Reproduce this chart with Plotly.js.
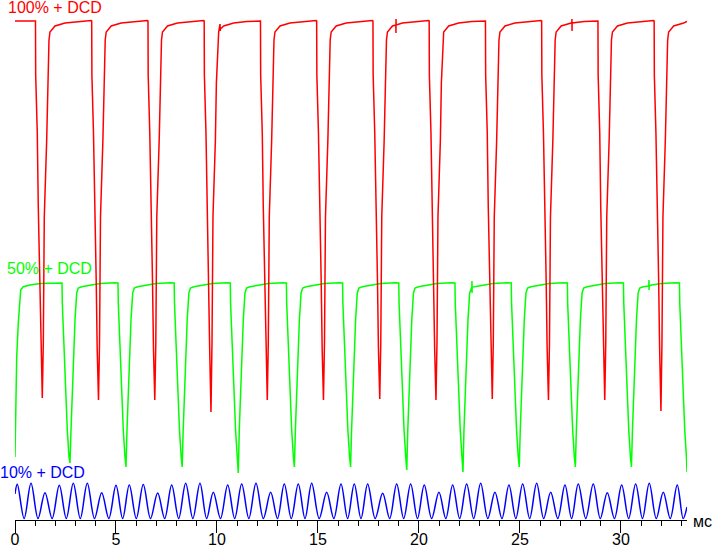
<!DOCTYPE html>
<html>
<head>
<meta charset="utf-8">
<script src="https://cdn.plot.ly/plotly-3.0.1.min.js"></script>
<style>html,body{margin:0;padding:0;background:#fff;}#chart{width:714px;height:548px;}</style>
</head>
<body>
<div id="chart"></div>
<script>
// time axis in ms, brightness in arbitrary units
const tickVals = [0, 5, 10, 15, 20, 25, 30];
const tickText = ["0", "5", "10", "15", "20", "25", "30"];
const seriesNames = ["100% + DCD", "50% + DCD", "10% + DCD"];
const unitLabel = "мс";

const redX = [0,
1.014,1.024,1.103,1.153,1.237,1.287,1.351,1.401,1.450,1.569,1.618,1.683,1.732,1.980,2.475,3.118,3.762,
3.797,3.807,3.886,3.936,4.020,4.070,4.134,4.184,4.233,4.352,4.401,4.466,4.515,4.763,5.258,5.901,6.545,
6.584,6.594,6.673,6.723,6.807,6.857,6.921,6.971,7.020,7.139,7.188,7.253,7.302,7.550,8.045,8.688,9.332,
9.366,9.376,9.455,9.505,9.589,9.639,9.703,9.753,9.802,9.921,9.970,10.035,10.084,10.150,10.160,10.170,10.332,10.827,11.470,12.114,
12.153,12.163,12.242,12.292,12.376,12.426,12.490,12.540,12.589,12.708,12.757,12.822,12.871,13.119,13.614,14.257,14.901,
14.935,14.945,15.024,15.074,15.158,15.208,15.272,15.322,15.371,15.490,15.539,15.604,15.653,15.901,16.396,17.039,17.683,
17.722,17.732,17.811,17.861,17.945,17.995,18.059,18.109,18.158,18.277,18.326,18.391,18.440,18.688,18.855,18.860,18.865,18.870,19.183,19.826,20.470,
20.505,20.515,20.594,20.644,20.728,20.778,20.842,20.892,20.941,21.060,21.109,21.174,21.223,21.471,21.966,22.609,23.253,
23.292,23.302,23.381,23.431,23.515,23.565,23.629,23.679,23.728,23.847,23.896,23.961,24.010,24.258,24.753,25.396,26.040,
26.074,26.084,26.163,26.213,26.297,26.347,26.411,26.461,26.510,26.629,26.678,26.743,26.792,27.040,27.535,27.570,27.574,27.578,27.582,28.178,28.822,
28.861,28.871,28.950,29.000,29.084,29.134,29.198,29.248,29.297,29.416,29.465,29.530,29.579,29.827,30.322,30.965,31.609,
31.643,31.653,31.732,31.782,31.866,31.916,31.980,32.030,32.079,32.198,32.247,32.312,32.361,32.609,33.104,33.270];
const redY = [499,
499,445,387,313,240,170,122,177,303,380,437,480,488,494,497,498.5,499.5,
499,445,387,313,240,170,120,177,303,380,437,480,488,494,497,498.5,499.5,
499,445,387,313,240,170,120,177,303,380,437,480,488,494,497,498.5,499.5,
499,445,387,313,240,170,108,177,303,380,437,480,488,496,489,491,494,497,498.5,499.5,
499,445,387,313,240,170,120,177,303,380,437,480,488,494,497,498.5,499.5,
499,445,387,313,240,170,120,177,303,380,437,480,488,494,497,498.5,499.5,
499,445,387,313,240,170,121,177,303,380,437,480,488,494,495,487,501,495,497,498.5,499.5,
499,445,387,313,240,170,120,177,303,380,437,480,488,494,497,498.5,499.5,
499,445,387,313,240,170,121,177,303,380,437,480,488,494,497,498.5,499.5,
499,445,387,313,240,170,120,177,303,380,437,480,488,494,497,497,501,489,497,498.5,499.5,
499,445,387,313,240,170,120,177,303,380,437,480,488,494,497,498.5,499.5,
499,445,387,313,240,170,109,177,303,380,437,480,488,494,497,498.5];

const greenX = [0.000,0.035,0.084,0.163,0.213,0.282,0.411,0.743,1.238,
2.327,2.342,2.426,2.525,2.589,2.673,2.723,2.773,2.837,2.886,2.971,3.055,3.134,3.302,3.713,4.208,4.923,
5.099,5.114,5.198,5.297,5.361,5.445,5.495,5.545,5.609,5.658,5.743,5.827,5.906,6.074,6.485,6.980,7.695,
7.881,7.896,7.980,8.079,8.143,8.227,8.277,8.327,8.391,8.440,8.525,8.609,8.688,8.856,9.267,9.762,10.477,
10.658,10.673,10.757,10.856,10.920,11.004,11.054,11.104,11.168,11.217,11.302,11.386,11.465,11.633,12.044,12.539,13.254,
13.436,13.451,13.535,13.634,13.698,13.782,13.832,13.882,13.946,13.995,14.080,14.164,14.243,14.411,14.822,15.317,16.032,
16.218,16.233,16.317,16.416,16.480,16.564,16.614,16.664,16.728,16.777,16.862,16.946,17.025,17.193,17.604,18.099,18.814,
19.000,19.015,19.099,19.198,19.262,19.346,19.396,19.446,19.510,19.559,19.644,19.728,19.807,19.975,20.386,20.881,21.596,
21.782,21.797,21.881,21.980,22.044,22.128,22.178,22.228,22.292,22.341,22.426,22.510,22.589,22.620,22.624,22.628,22.632,22.757,23.168,23.663,24.378,
24.569,24.584,24.668,24.767,24.831,24.915,24.965,25.015,25.079,25.128,25.213,25.297,25.376,25.544,25.955,26.450,27.165,
27.347,27.362,27.446,27.545,27.609,27.693,27.743,27.793,27.857,27.906,27.991,28.075,28.154,28.322,28.733,29.228,29.943,
30.124,30.139,30.223,30.322,30.386,30.470,30.520,30.570,30.634,30.683,30.768,30.852,30.931,31.099,31.380,31.386,31.392,31.398,31.510,32.005,32.720,
32.896,32.911,32.995,33.094,33.158,33.242,33.270];
const greenY = [63,107,163,197,217,230,233.3,235,236.5,
237,217,167,127,90,63,57,90,127,167,200,227,232,233.3,235,236.5,237.3,
237,217,167,127,90,63,53,90,127,167,200,227,232,233.3,235,236.5,237.3,
237,217,167,127,90,63,53,90,127,167,200,227,232,233.3,235,236.5,237.3,
237,217,167,127,90,63,47,90,127,167,200,227,232,233.3,235,236.5,237.3,
237,217,167,127,90,63,53,90,127,167,200,227,232,233.3,235,236.5,237.3,
237,217,167,127,90,63,53,90,127,167,200,227,232,233.3,235,236.5,237.3,
237,217,167,127,90,63,50,90,127,167,200,227,232,233.3,235,236.5,237.3,
237,217,167,127,90,63,48,90,127,167,200,227,232,233,239,227,233,233.3,235,236.5,237.3,
237,217,167,127,90,63,53,90,127,167,200,227,232,233.3,235,236.5,237.3,
237,217,167,127,90,63,53,90,127,167,200,227,232,233.3,235,236.5,237.3,
237,217,167,127,90,63,53,90,127,167,200,227,232,233.3,234,240,230,234,235,236.5,237.3,
237,217,167,127,90,63,48];

const blueX = [0,0.114,0.453,0.792,1.139,1.485,1.839,2.193,2.540,2.886,3.233,3.579,3.936,4.292,4.646,5.000,5.329,5.658,6.005,6.351,6.708,7.064,7.411,7.757,8.104,8.450,8.804,9.158,9.488,9.817,10.174,10.530,10.877,11.223,11.577,11.931,12.295,12.658,12.995,13.332,13.679,14.025,14.357,14.688,15.060,15.431,15.785,16.139,16.468,16.797,17.129,17.460,17.832,18.203,18.550,18.896,19.243,19.589,19.926,20.262,20.626,20.990,21.329,21.668,22.015,22.361,22.708,23.054,23.408,23.762,24.109,24.455,24.795,25.134,25.481,25.827,26.174,26.520,26.874,27.228,27.557,27.886,28.258,28.629,28.976,29.322,29.679,30.035,30.382,30.728,31.065,31.401,31.748,32.094,32.441,32.787,33.080,33.270];
const blueY = [26,35.7,1.5,36.7,1.5,27.3,1.5,34.7,1.5,36.7,1.5,36.7,1.5,27.3,1.5,34.7,1.5,35,1.5,35.5,1.5,27,1.5,35,1.5,36.7,1.5,36.7,1.5,27.7,1.5,35,1.5,36,1.5,36.7,1.5,27.7,1.5,36,1.5,36,1.5,36.7,1.5,27.7,1.5,36,1.5,36,1.5,36,1.5,26.7,1.5,36,1.5,36,1.5,35,1.5,27.7,1.5,35,1.5,36,1.5,36.7,1.5,27.7,1.5,35,1.5,36,1.5,36.7,1.5,27.7,1.5,35,1.5,36,1.5,36,1.5,27.3,1.5,35,1.5,36,1.5,36.7,1.5,27.7,1.5,35,1.5,13];

const FONT = "Liberation Sans, Arial, sans-serif";
const colors = ["#ff0000", "#00ff00", "#0000ff"];

const traces = [
  {x: blueX, y: blueY, type: "scatter", mode: "lines", name: seriesNames[2],
   line: {color: colors[2], width: 1.5, shape: "spline", smoothing: 1}},
  {x: greenX, y: greenY, type: "scatter", mode: "lines", name: seriesNames[1],
   line: {color: colors[1], width: 1.5}},
  {x: redX, y: redY, type: "scatter", mode: "lines", name: seriesNames[0],
   line: {color: colors[0], width: 1.5}}
];

const layout = {
  width: 714, height: 548,
  margin: {l: 15, r: 27, t: 0, b: 28, pad: 0},
  paper_bgcolor: "#ffffff", plot_bgcolor: "#ffffff",
  showlegend: false,
  font: {family: FONT, size: 16, color: "#000"},
  xaxis: {
    range: [0, 33.27], showgrid: false, zeroline: false,
    showline: true, linecolor: "#000", linewidth: 1,
    tickmode: "array", tickvals: tickVals, ticktext: tickText,
    ticks: "outside", ticklen: 12, tickwidth: 1, tickcolor: "#000",
    ticklabelstandoff: -7,
    tickfont: {family: FONT, size: 16, color: "#000"},
    minor: {dtick: 1, tick0: 0, ticks: "outside", ticklen: 5, tickwidth: 1, tickcolor: "#000", showgrid: false},
    fixedrange: true
  },
  yaxis: {range: [0, 520], visible: false, fixedrange: true},
  annotations: [
    {text: seriesNames[0], xref: "paper", yref: "y", x: 0, y: 513, xanchor: "left", yanchor: "middle",
     xshift: -9, showarrow: false, font: {family: FONT, size: 16, color: colors[0]}},
    {text: seriesNames[1], xref: "paper", yref: "y", x: 0, y: 252, xanchor: "left", yanchor: "middle",
     xshift: -10, showarrow: false, font: {family: FONT, size: 16, color: colors[1]}},
    {text: seriesNames[2], xref: "paper", yref: "y", x: 0, y: 47.5, xanchor: "left", yanchor: "middle",
     xshift: -17, showarrow: false, font: {family: FONT, size: 16, color: colors[2]}},
    {text: unitLabel, xref: "paper", yref: "paper", x: 1, y: 0, xanchor: "right", yanchor: "middle",
     xshift: 27, yshift: -1, showarrow: false, font: {family: FONT, size: 16, color: "#000"}}
  ]
};

Plotly.newPlot("chart", traces, layout, {staticPlot: true, displayModeBar: false});
</script>
</body>
</html>
